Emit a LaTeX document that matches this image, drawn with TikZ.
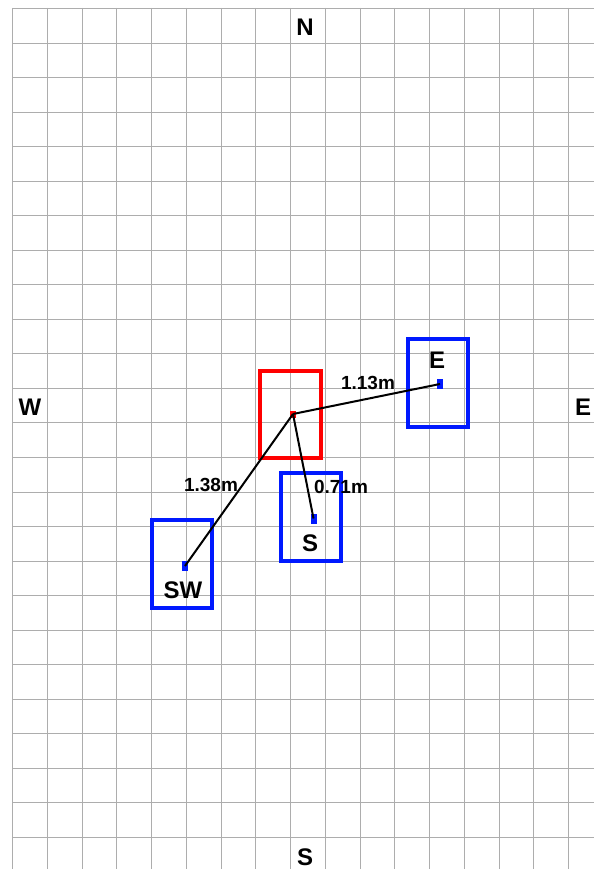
\documentclass[tikz,border=0pt]{standalone}
\usepackage{fontspec}
\setmainfont{Liberation Sans}
\begin{document}
\begin{tikzpicture}[x=1pt,y=-1pt,
  gridline/.style={draw=black!32,line width=1.4pt},
  dir/.style={font=\fontsize{24}{24}\selectfont\bfseries,inner sep=0pt},
  tag/.style={font=\fontsize{24}{24}\selectfont\bfseries,inner sep=0pt},
  dist/.style={font=\fontsize{19}{19}\selectfont\bfseries,inner sep=0pt},
  redbox/.style={draw=red,line width=4pt,minimum width=61pt,minimum height=87pt,inner sep=0pt},
  bluebox/.style={draw=blue!90!cyan,line width=4pt,minimum width=60pt,minimum height=88pt,inner sep=0pt},
  reddot/.style={fill=red,minimum width=6pt,minimum height=7pt,inner sep=0pt},
  bluedot/.style={fill=blue!90!cyan,minimum width=6pt,minimum height=10pt,inner sep=0pt},
  link/.style={draw=black,line width=2pt}]
\useasboundingbox (0,0) rectangle (594,869);
\fill[white] (0,0) rectangle (594,869);
% grid (snapped to pixel centres)
\foreach \k in {0,...,24} {
  \pgfmathsetmacro{\yy}{round(8+34.54*\k)+0.5}
  \draw[gridline] (12,\yy) -- (594,\yy);
}
\foreach \k in {0,...,16} {
  \pgfmathsetmacro{\xx}{round(12+34.75*\k)+0.5}
  \draw[gridline] (\xx,8) -- (\xx,869);
}
% compass labels
\node[dir] (lN) at (305,27) {N};
\node[dir] (lW) at (30,407) {W};
\node[dir] (lE) at (583,407) {E};
\node[dir] (lS) at (305,857) {S};
% boxes
\node[redbox] (rb) at (290.5,414.5) {};
\node[bluebox] (eb) at (438,383) {};
\node[bluebox] (sb) at (310.5,516.5) {};
\node[bluebox] (swb) at (181.5,564) {};
% labels in boxes
\node[tag] (tE) at (437,360) {E};
\node[tag] (tS) at (310,543) {S};
\node[tag] (tSW) at (183,590) {SW};
% dots
\node[reddot] (c) at (293,414) {};
\node[bluedot] (de) at (440,384) {};
\node[bluedot] (ds) at (313.5,518.5) {};
\node[bluedot] (dsw) at (185,566) {};
% links
\draw[link] (c.center) -- (de.center);
\draw[link] (c.center) -- (ds.center);
\draw[link] (c.center) -- (dsw.center);
% distances
\node[dist] (d1) at (368,383) {1.13m};
\node[dist] (d2) at (211,485) {1.38m};
\node[dist] (d3) at (341,487) {0.71m};
\end{tikzpicture}
\end{document}
